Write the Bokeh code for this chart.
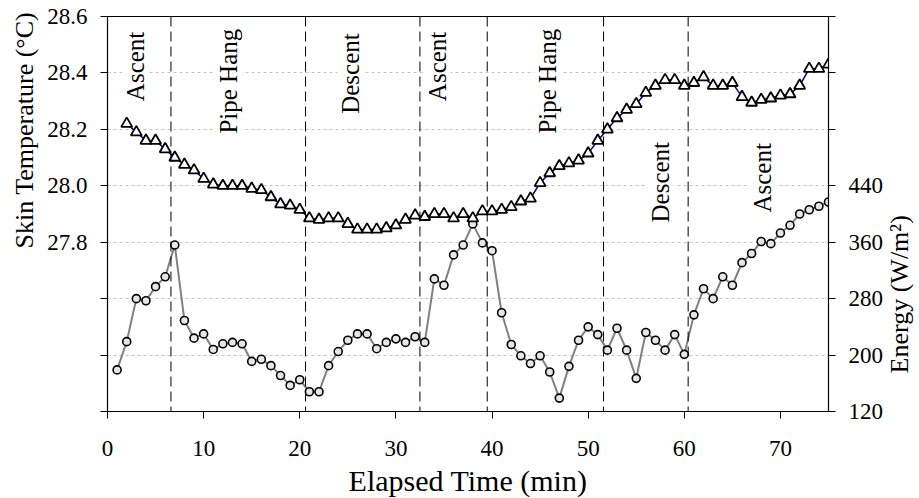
import math
from bokeh.plotting import figure
from bokeh.models import (Range1d, LinearAxis, FixedTicker, Span, Label, Title,
                          CustomJSTickFormatter)
from bokeh.embed import file_html
from bokeh.resources import INLINE

# ---- data ----
temp_minutes = list(range(2, 76))
skin_temp = [28.22, 28.19, 28.16, 28.16, 28.13, 28.10, 28.075, 28.055, 28.025, 28.005,
             28.00, 28.00, 28.00, 27.99, 27.985, 27.96, 27.935, 27.93, 27.915, 27.885,
             27.88, 27.885, 27.885, 27.865, 27.845, 27.845, 27.845, 27.85, 27.86, 27.88,
             27.895, 27.89, 27.90, 27.90, 27.885, 27.90, 27.885, 27.91, 27.91, 27.915,
             27.925, 27.945, 27.955, 28.01, 28.045, 28.07, 28.08, 28.09, 28.115, 28.16,
             28.20, 28.24, 28.27, 28.29, 28.33, 28.355, 28.375, 28.375, 28.355, 28.365,
             28.385, 28.355, 28.355, 28.365, 28.315, 28.295, 28.305, 28.31, 28.32, 28.325,
             28.355, 28.415, 28.415, 28.43]

energy_minutes = list(range(1, 76))
energy = [179, 219, 280, 277, 297, 311, 356, 249, 224, 230,
          208, 216, 218, 216, 191, 194, 185, 171, 157, 165,
          148, 148, 185, 205, 221, 230, 230, 209, 218, 223,
          218, 226, 218, 308, 299, 342, 356, 386, 359, 348,
          260, 215, 199, 188, 199, 176, 139, 184, 221, 240,
          229, 207, 238, 207, 167, 232, 221, 207, 229, 201,
          257, 294, 280, 311, 299, 331, 344, 361, 358, 373,
          384, 400, 406, 411, 417]

phase_bounds = [6.6, 20.6, 32.5, 39.5, 51.6, 60.4]
phase_names = ["Ascent", "Pipe Hang", "Descent", "Ascent", "Pipe Hang", "Descent", "Ascent"]
phase_label_x = [2.9, 12.6, 25.3, 34.3, 45.8, 57.5, 68.1]
phase_label_y = [28.30, 28.185, 28.255, 28.30, 28.185, 27.87, 27.905]

x_ticks = [0, 10, 20, 30, 40, 50, 60, 70]
temp_ticks = [27.2, 27.4, 27.6, 27.8, 28.0, 28.2, 28.4, 28.6]
energy_ticks = [120, 200, 280, 360, 440, 520, 600, 680]

x_title = "Elapsed Time (min)"
left_title = "Skin Temperature (°C)"
right_title = "Energy (W/m²)"

FONT = "Liberation Serif"

p = figure(frame_width=721, frame_height=395, x_range=Range1d(0, 75), y_range=Range1d(27.2, 28.6),
           output_backend="svg", toolbar_location=None,
           min_border_left=107, min_border_right=91, min_border_top=16, min_border_bottom=80)
p.extra_y_ranges = {"energy": Range1d(120, 680)}

p.outline_line_color = "black"
p.outline_line_width = 1
p.background_fill_color = "white"
p.border_fill_color = "white"

# grid
p.xgrid.visible = False
p.ygrid.grid_line_color = "#c4c4c4"
p.ygrid.grid_line_dash = "3 3"
p.ygrid.grid_line_width = 1

# bottom axis
xa = p.xaxis[0]
xa.ticker = FixedTicker(ticks=x_ticks)
xa.axis_label = x_title

# left axis
ya = p.yaxis[0]
ya.ticker = FixedTicker(ticks=temp_ticks)
ya.formatter = CustomJSTickFormatter(code="return tick < 27.7 ? '' : tick.toFixed(1);")

# right axis
ra = LinearAxis(y_range_name="energy", ticker=FixedTicker(ticks=energy_ticks),
                formatter=CustomJSTickFormatter(code="return tick > 450 ? '' : tick.toFixed(0);"))
p.add_layout(ra, "right")

for ax in [xa, ya, ra]:
    ax.axis_line_color = "black"
    ax.axis_line_width = 1.2
    ax.major_tick_line_color = "black"
    ax.major_tick_out = 7
    ax.major_tick_in = 0
    ax.minor_tick_line_color = None
    ax.major_label_text_font = FONT
    ax.major_label_text_font_size = "23px"
    ax.major_label_text_color = "black"

xa.major_label_standoff = 22
ya.major_label_standoff = 13
ra.major_label_standoff = 13
xa.axis_label_text_font = FONT
xa.axis_label_text_font_size = "30px"
xa.axis_label_text_font_style = "normal"
xa.axis_label_text_color = "black"
xa.axis_label_standoff = 5

# left title, positioned along the axis like the reference
p.add_layout(Title(text=left_title, align="left", offset=163, standoff=12,
                   text_font=FONT, text_font_size="26px", text_font_style="normal",
                   text_color="black"), "left")

# right title: an extra unlined right axis carrying the title as its only label
rt = LinearAxis(y_range_name="energy", ticker=FixedTicker(ticks=[174]),
                formatter=CustomJSTickFormatter(args=dict(t=right_title), code="return t;"))
rt.axis_line_color = None
rt.major_tick_line_color = None
rt.minor_tick_line_color = None
rt.major_tick_out = 0
rt.major_tick_in = 0
rt.major_label_orientation = math.pi / 2
rt.major_label_standoff = 13
rt.major_label_text_font = FONT
rt.major_label_text_font_size = "26px"
rt.major_label_text_color = "black"
p.add_layout(rt, "right")

# phase boundaries
for b in phase_bounds:
    p.add_layout(Span(location=b, dimension="height", line_color="black",
                      line_width=1, line_dash="10 5"))

# energy series
p.line(energy_minutes, energy, y_range_name="energy", line_color="#808080", line_width=2)
p.scatter(energy_minutes, energy, y_range_name="energy", marker="circle", size=8,
          fill_color="#e6e6e6", line_color="black", line_width=1.6)

# temperature series
p.line(temp_minutes, skin_temp, line_color="#000080", line_width=1.5)
p.scatter(temp_minutes, skin_temp, marker="triangle", size=11,
          fill_color="white", line_color="black", line_width=1.8)

# phase labels
for name, lx, ly in zip(phase_names, phase_label_x, phase_label_y):
    p.add_layout(Label(x=lx, y=ly, text=name, angle=math.pi / 2,
                       text_align="left", text_baseline="middle",
                       text_font=FONT, text_font_size="25px", text_color="black",
                       background_fill_color="white"))

open("out.html", "w").write(file_html(p, INLINE))
